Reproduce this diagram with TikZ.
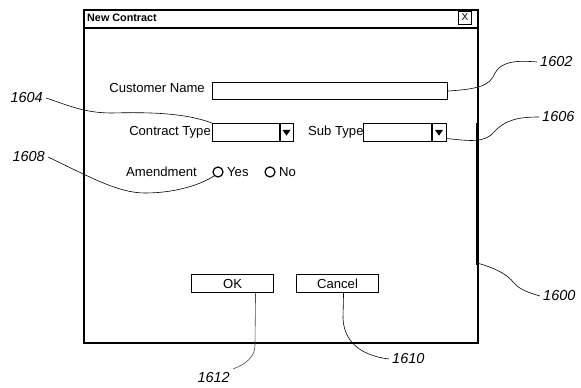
\documentclass[tikz,border=0pt]{standalone}
\usepackage{fontspec}
\setmainfont{Liberation Sans}
\usetikzlibrary{shapes.geometric}
\begin{document}
\begin{tikzpicture}[x=1pt,y=-1pt,
  ui/.style={font=\fontsize{13.1}{15}\selectfont, inner sep=0pt},
  lbl/.style={font=\itshape\fontsize{14.5}{16}\selectfont, inner sep=3pt},
  field/.style={draw, line width=1.1pt, inner sep=0pt, anchor=north west},
  btn/.style={draw, line width=1.1pt, inner sep=0pt, anchor=north west, minimum width=82pt, minimum height=18pt, font=\fontsize{13.1}{15}\selectfont},
  radio/.style={draw, circle, line width=1.2pt, minimum size=10pt, inner sep=0pt},
  leader/.style={line width=0.6pt},
  tri/.style={fill=black, isosceles triangle, shape border rotate=270, isosceles triangle apex angle=70, minimum width=8pt, minimum height=0pt, inner sep=0pt}]
\useasboundingbox (0,0) rectangle (581,388);

% window
\node[draw, line width=1.5pt, minimum width=394pt, minimum height=333pt, inner sep=0pt, anchor=north west] (win) at (83,9) {};
\draw[line width=1.2pt] ([yshift=-19pt]win.north west) -- ([yshift=-19pt]win.north east);
\draw[line width=1.9pt] (477.4,123) -- (477.4,265);
\node[anchor=west, font=\bfseries\fontsize{10.8}{12}\selectfont, inner sep=0pt] (title) at (87,18) {New Contract};
\node[draw, line width=1pt, minimum width=13pt, minimum height=13pt, inner sep=0pt, font=\fontsize{10}{12}\selectfont] (close) at (465,17.5) {X};

% customer name
\node[ui, anchor=east] (cnl) at (205,88) {Customer Name};
\node[field, minimum width=235pt, minimum height=17pt] (cname) at (212,82) {};

% contract type
\node[ui, anchor=east] (ctl) at (211,132) {Contract Type};
\node[field, minimum width=81pt, minimum height=18pt] (ctype) at (212,123) {};
\draw[line width=1.1pt] (280,123) -- (280,141);
\node[tri] (ctri) at (286.5,132) {};

% sub type
\node[ui, anchor=west] (stl) at (308,132) {Sub Type};
\node[field, minimum width=83pt, minimum height=18pt] (stype) at (363,123) {};
\draw[line width=1.1pt] (432,123) -- (432,141);
\node[tri] (stri) at (439,132) {};

% amendment
\node[ui, anchor=east] (aml) at (197,172) {Amendment};
\node[radio] (yes) at (218,172) {};
\node[ui, anchor=west] (yesl) at (227,172) {Yes};
\node[radio] (no) at (270,172) {};
\node[ui, anchor=west] (nol) at (279,172) {No};

% buttons
\node[btn] (ok) at (191,274) {OK};
\node[btn] (cancel) at (296,274) {Cancel};

% labels
\node[lbl, anchor=west] (l1602) at (537,62) {1602};
\node[lbl, anchor=east] (l1604) at (46,98) {1604};
\node[lbl, anchor=west] (l1606) at (539,117) {1606};
\node[lbl, anchor=east] (l1608) at (48,157) {1608};
\node[lbl, anchor=west] (l1600) at (540,296) {1600};
\node[lbl, anchor=west] (l1610) at (389,359) {1610};
\node[lbl, anchor=north east] (l1612) at (233,369) {1612};
\coordinate (w1600) at (477,263);

% leaders
\draw[leader] (cname.east) .. controls (478,89) and (490,86) .. (495,73) .. controls (501,62) and (515,60) .. (l1602.west);
\draw[leader] (l1604.east) .. controls (70,106) and (85,113) .. (112,113) .. controls (150,112) and (185,113) .. (ctype.north west);
\draw[leader] ([yshift=-6pt]stype.east) .. controls (470,141) and (485,143) .. (494,132) .. controls (505,120) and (518,117) .. (l1606.west);
\draw[leader] (l1608.east) .. controls (90,177) and (118,193) .. (145,193) .. controls (175,193) and (200,185) .. (yes.south west);
\draw[leader] (w1600) .. controls (495,268) and (507,274) .. (514,283) .. controls (520,290) and (530,293) .. (l1600.west);
\draw[leader] ([xshift=6pt]cancel.south) -- (343,318) .. controls (344,345) and (365,356) .. (l1610.west);
\draw[leader, black!70] ([xshift=23pt]ok.south) -- (255,345) .. controls (255,357) and (246,364) .. (l1612.north east);
\end{tikzpicture}
\end{document}
